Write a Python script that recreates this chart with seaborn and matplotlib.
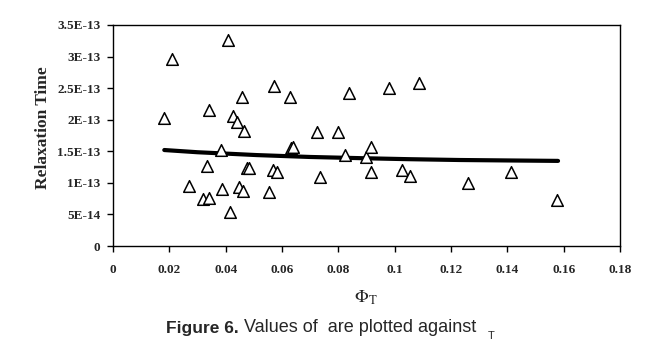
import matplotlib
matplotlib.use("Agg")
import matplotlib.pyplot as plt
import seaborn as sns
import pandas as pd

# Measured points: volume fraction vs relaxation time (s)
phi_t = [0.0182, 0.0209, 0.0408, 0.0340, 0.0426, 0.0441, 0.0457, 0.0466,
         0.0572, 0.0628, 0.0631, 0.0640, 0.0723, 0.0734, 0.0383, 0.0333,
         0.0270, 0.0321, 0.0340, 0.0386, 0.0415, 0.0446, 0.0463, 0.0477,
         0.0484, 0.0553, 0.0568, 0.0581, 0.0799, 0.0839, 0.0825, 0.0898,
         0.0916, 0.0915, 0.0979, 0.1027, 0.1054, 0.1085, 0.1259, 0.1412,
         0.1575]
relax = [2.02, 2.96, 3.26, 2.15, 2.06, 1.97, 2.36, 1.82,
         2.53, 2.36, 1.56, 1.57, 1.81, 1.10, 1.52, 1.26,
         0.955, 0.744, 0.76, 0.91, 0.533, 0.94, 0.87, 1.23,
         1.23, 0.855, 1.20, 1.17, 1.80, 2.42, 1.44, 1.41,
         1.57, 1.17, 2.51, 1.21, 1.11, 2.58, 1.00, 1.17,
         0.73]
relax = [v * 1e-13 for v in relax]

# Trend line
trend_x = [0.0182, 0.030, 0.051, 0.070, 0.089, 0.105, 0.123, 0.140, 0.158]
trend_y = [1.52, 1.485, 1.44, 1.41, 1.39, 1.375, 1.362, 1.355, 1.348]
trend_y = [v * 1e-13 for v in trend_y]

x_ticks = [0, 0.02, 0.04, 0.06, 0.08, 0.1, 0.12, 0.14, 0.16, 0.18]
x_tick_labels = ["0", "0.02", "0.04", "0.06", "0.08", "0.1", "0.12", "0.14", "0.16", "0.18"]
y_ticks = [0, 0.5e-13, 1e-13, 1.5e-13, 2e-13, 2.5e-13, 3e-13, 3.5e-13]
y_tick_labels = ["0", "5E-14", "1E-13", "1.5E-13", "2E-13", "2.5E-13", "3E-13", "3.5E-13"]

pts = pd.DataFrame({"phi": phi_t, "tau": relax})
trend = pd.DataFrame({"phi": trend_x, "tau": trend_y})

sns.set_style("white")
plt.rcParams["font.family"] = ["Liberation Serif", "DejaVu Serif"]

fig = plt.figure(figsize=(6.51, 3.5), dpi=100)
ax = fig.add_axes([0.1736, 0.2971, 0.7788, 0.6315])

sns.lineplot(data=trend, x="phi", y="tau", ax=ax, color="black",
             linewidth=3.0, sort=True, zorder=2)
sns.scatterplot(data=pts, x="phi", y="tau", ax=ax, marker="^", s=70,
                facecolor="white", edgecolor="black", linewidth=1.1, zorder=3)

ax.set_xlim(0, 0.18)
ax.set_ylim(0, 3.5e-13)
ax.set_xticks(x_ticks)
ax.set_xticklabels(x_tick_labels, fontweight="bold", fontsize=9.5)
ax.set_yticks(y_ticks)
ax.set_yticklabels(y_tick_labels, fontweight="bold", fontsize=9.5)
ax.tick_params(axis="both", direction="out", length=4, width=1, color="black",
               bottom=True, left=True)
ax.tick_params(axis="x", pad=9)
ax.tick_params(axis="y", pad=5)
for side in ["left", "right", "top", "bottom"]:
    ax.spines[side].set_visible(True)
    ax.spines[side].set_color("black")
    ax.spines[side].set_linewidth(1.0)

ax.set_xlabel("")
ax.set_ylabel("Relaxation Time", fontweight="bold", fontsize=12.5)
ax.yaxis.set_label_coords(-0.122, 0.535)

fig.text(366 / 651, 1 - 298 / 350, r"$\Phi_{\mathrm{T}}$", ha="center", va="center",
         fontsize=13, math_fontfamily="stix")

cap_y = 1 - 328 / 350
fig.text(166 / 651, cap_y, "Figure 6.", ha="left", va="center", fontsize=12.5,
         fontweight="bold", family=["Liberation Sans", "DejaVu Sans"])
fig.text(244 / 651, cap_y, "Values of  are plotted against", ha="left", va="center",
         fontsize=13, family=["Liberation Sans", "DejaVu Sans"])
fig.text(488 / 651, 1 - 336 / 350, "T", ha="left", va="center", fontsize=8,
         family=["Liberation Sans", "DejaVu Sans"])

fig.savefig("out.png", dpi=100)
